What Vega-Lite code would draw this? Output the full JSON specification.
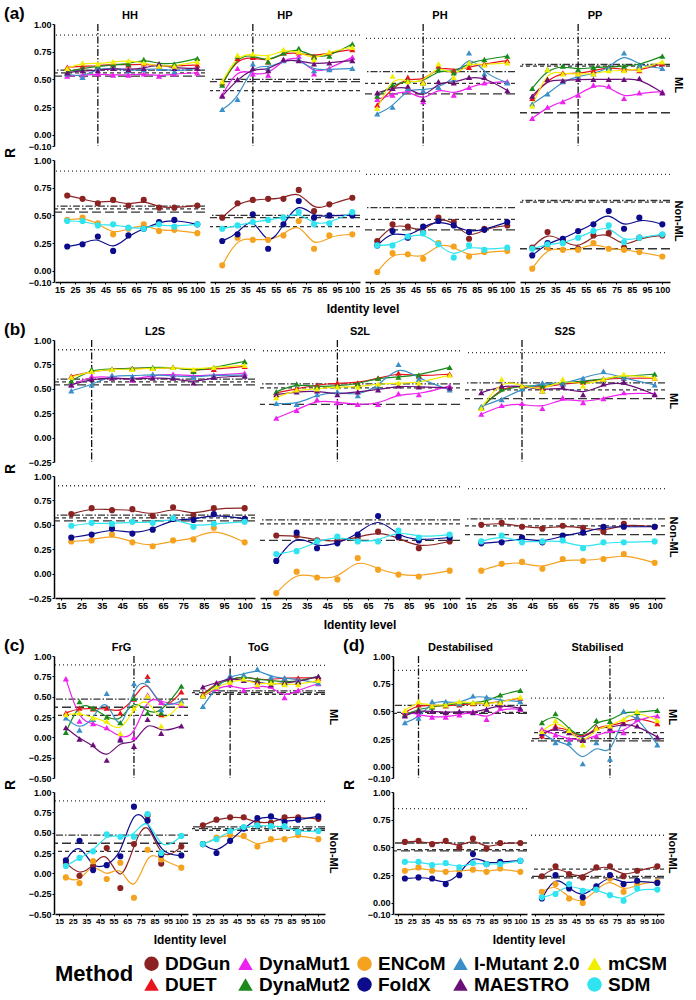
{
"$schema":"https://vega.github.io/schema/vega-lite/v6.json",
"padding":{"left":4,"top":5,"right":4,"bottom":0},
"spacing":6,
"config":{
"font":"Liberation Sans",
"view":{"stroke":null},
"axis":{"grid":false,"domainColor":"#000","domainWidth":1.5,"tickColor":"#000","tickSize":2,"labelFontWeight":"bold","labelFontSize":9,"labelColor":"#000","labelPadding":1,"labelOverlap":false,"labelFlush":false},
"header":{"labelFontWeight":"bold","labelFontSize":11,"labelColor":"#000","titleFontWeight":"bold","titleFontSize":12,"titleColor":"#000","labelPadding":2,"titlePadding":0},
"title":{"fontSize":17,"fontWeight":"bold","anchor":"start","color":"#000","offset":-13},
"legend":{"orient":"bottom","direction":"horizontal","columns":5,"titleOrient":"left","titleAnchor":"middle","titleFontSize":22,"titleFontWeight":"bold","titleColor":"#000","labelFontWeight":"bold","labelFontSize":19,"labelColor":"#000","symbolSize":210,"rowPadding":1,"columnPadding":5,"titlePadding":8,"labelLimit":250,"offset":8,"symbolStrokeWidth":0},
"concat":{"spacing":6}
},
"datasets":{
"meth":[{"m":"DG","n":"DDGun","r":"Non-ML"},{"m":"DU","n":"DUET","r":"ML"},{"m":"D1","n":"DynaMut1","r":"ML"},{"m":"D2","n":"DynaMut2","r":"ML"},{"m":"EN","n":"ENCoM","r":"Non-ML"},{"m":"FX","n":"FoldX","r":"Non-ML"},{"m":"IM","n":"I-Mutant 2.0","r":"ML"},{"m":"MA","n":"MAESTRO","r":"ML"},{"m":"MC","n":"mCSM","r":"ML"},{"m":"SD","n":"SDM","r":"Non-ML"},{"m":"L","r":"ML"},{"m":"N","r":"Non-ML"}],
"a":[
{"p":"HH","m":"L","k":"dot","y":0.9},{"p":"HH","m":"L","k":"dd","y":0.585},{"p":"HH","m":"L","k":"ds","y":0.56},{"p":"HH","m":"L","k":"ld","y":0.53},
{"p":"HH","m":"N","k":"dot","y":0.9},{"p":"HH","m":"N","k":"dd","y":0.585},{"p":"HH","m":"N","k":"ds","y":0.56},{"p":"HH","m":"N","k":"ld","y":0.53},{"p":"HH","m":"L","k":"v","x":40},
{"p":"HP","m":"L","k":"dot","y":0.9},{"p":"HP","m":"L","k":"dd","y":0.5},{"p":"HP","m":"L","k":"ld","y":0.48},{"p":"HP","m":"L","k":"ds","y":0.4},
{"p":"HP","m":"N","k":"dot","y":0.9},{"p":"HP","m":"N","k":"dd","y":0.5},{"p":"HP","m":"N","k":"ld","y":0.48},{"p":"HP","m":"N","k":"ds","y":0.4},{"p":"HP","m":"L","k":"v","x":40},
{"p":"PH","m":"L","k":"dot","y":0.87},{"p":"PH","m":"L","k":"dd","y":0.57},{"p":"PH","m":"L","k":"ds","y":0.465},{"p":"PH","m":"L","k":"ld","y":0.37},
{"p":"PH","m":"N","k":"dot","y":0.87},{"p":"PH","m":"N","k":"dd","y":0.57},{"p":"PH","m":"N","k":"ds","y":0.465},{"p":"PH","m":"N","k":"ld","y":0.37},{"p":"PH","m":"L","k":"v","x":50},
{"p":"PP","m":"L","k":"dot","y":0.87},{"p":"PP","m":"L","k":"dd","y":0.635},{"p":"PP","m":"L","k":"ds","y":0.62},{"p":"PP","m":"L","k":"ld","y":0.2},
{"p":"PP","m":"N","k":"dot","y":0.87},{"p":"PP","m":"N","k":"dd","y":0.635},{"p":"PP","m":"N","k":"ds","y":0.62},{"p":"PP","m":"N","k":"ld","y":0.2},{"p":"PP","m":"L","k":"v","x":50},
{"p":"HH","m":"DU","x":20,"y":0.61},{"p":"HH","m":"DU","x":30,"y":0.62},{"p":"HH","m":"DU","x":40,"y":0.62},{"p":"HH","m":"DU","x":50,"y":0.64},{"p":"HH","m":"DU","x":60,"y":0.63},{"p":"HH","m":"DU","x":70,"y":0.64},{"p":"HH","m":"DU","x":80,"y":0.62},{"p":"HH","m":"DU","x":90,"y":0.62},{"p":"HH","m":"DU","x":100,"y":0.63},
{"p":"HH","m":"D1","x":20,"y":0.53},{"p":"HH","m":"D1","x":30,"y":0.54},{"p":"HH","m":"D1","x":40,"y":0.55},{"p":"HH","m":"D1","x":50,"y":0.54},{"p":"HH","m":"D1","x":60,"y":0.54},{"p":"HH","m":"D1","x":70,"y":0.55},{"p":"HH","m":"D1","x":80,"y":0.53},{"p":"HH","m":"D1","x":90,"y":0.55},{"p":"HH","m":"D1","x":100,"y":0.56},
{"p":"HH","m":"D2","x":20,"y":0.57},{"p":"HH","m":"D2","x":30,"y":0.6},{"p":"HH","m":"D2","x":40,"y":0.62},{"p":"HH","m":"D2","x":50,"y":0.63},{"p":"HH","m":"D2","x":60,"y":0.64},{"p":"HH","m":"D2","x":70,"y":0.68},{"p":"HH","m":"D2","x":80,"y":0.64},{"p":"HH","m":"D2","x":90,"y":0.64},{"p":"HH","m":"D2","x":100,"y":0.69},
{"p":"HH","m":"IM","x":20,"y":0.55},{"p":"HH","m":"IM","x":30,"y":0.52},{"p":"HH","m":"IM","x":40,"y":0.6},{"p":"HH","m":"IM","x":50,"y":0.6},{"p":"HH","m":"IM","x":60,"y":0.58},{"p":"HH","m":"IM","x":70,"y":0.59},{"p":"HH","m":"IM","x":80,"y":0.6},{"p":"HH","m":"IM","x":90,"y":0.57},{"p":"HH","m":"IM","x":100,"y":0.6},
{"p":"HH","m":"MA","x":20,"y":0.56},{"p":"HH","m":"MA","x":30,"y":0.58},{"p":"HH","m":"MA","x":40,"y":0.58},{"p":"HH","m":"MA","x":50,"y":0.6},{"p":"HH","m":"MA","x":60,"y":0.59},{"p":"HH","m":"MA","x":70,"y":0.6},{"p":"HH","m":"MA","x":80,"y":0.64},{"p":"HH","m":"MA","x":90,"y":0.6},{"p":"HH","m":"MA","x":100,"y":0.6},
{"p":"HH","m":"MC","x":20,"y":0.6},{"p":"HH","m":"MC","x":30,"y":0.65},{"p":"HH","m":"MC","x":40,"y":0.64},{"p":"HH","m":"MC","x":50,"y":0.66},{"p":"HH","m":"MC","x":60,"y":0.67},{"p":"HH","m":"MC","x":70,"y":0.65},{"p":"HH","m":"MC","x":80,"y":0.62},{"p":"HH","m":"MC","x":90,"y":0.62},{"p":"HH","m":"MC","x":100,"y":0.66},
{"p":"HH","m":"DG","x":20,"y":0.68},{"p":"HH","m":"DG","x":30,"y":0.65},{"p":"HH","m":"DG","x":40,"y":0.61},{"p":"HH","m":"DG","x":50,"y":0.64},{"p":"HH","m":"DG","x":60,"y":0.59},{"p":"HH","m":"DG","x":70,"y":0.64},{"p":"HH","m":"DG","x":80,"y":0.57},{"p":"HH","m":"DG","x":90,"y":0.57},{"p":"HH","m":"DG","x":100,"y":0.59},
{"p":"HH","m":"EN","x":20,"y":0.46},{"p":"HH","m":"EN","x":30,"y":0.48},{"p":"HH","m":"EN","x":40,"y":0.43},{"p":"HH","m":"EN","x":50,"y":0.33},{"p":"HH","m":"EN","x":60,"y":0.38},{"p":"HH","m":"EN","x":70,"y":0.42},{"p":"HH","m":"EN","x":80,"y":0.36},{"p":"HH","m":"EN","x":90,"y":0.37},{"p":"HH","m":"EN","x":100,"y":0.34},
{"p":"HH","m":"FX","x":20,"y":0.22},{"p":"HH","m":"FX","x":30,"y":0.24},{"p":"HH","m":"FX","x":40,"y":0.31},{"p":"HH","m":"FX","x":50,"y":0.18},{"p":"HH","m":"FX","x":60,"y":0.32},{"p":"HH","m":"FX","x":70,"y":0.38},{"p":"HH","m":"FX","x":80,"y":0.44},{"p":"HH","m":"FX","x":90,"y":0.46},{"p":"HH","m":"FX","x":100,"y":0.42},
{"p":"HH","m":"SD","x":20,"y":0.45},{"p":"HH","m":"SD","x":30,"y":0.45},{"p":"HH","m":"SD","x":40,"y":0.41},{"p":"HH","m":"SD","x":50,"y":0.42},{"p":"HH","m":"SD","x":60,"y":0.39},{"p":"HH","m":"SD","x":70,"y":0.38},{"p":"HH","m":"SD","x":80,"y":0.42},{"p":"HH","m":"SD","x":90,"y":0.4},{"p":"HH","m":"SD","x":100,"y":0.42},
{"p":"HP","m":"DU","x":20,"y":0.47},{"p":"HP","m":"DU","x":30,"y":0.69},{"p":"HP","m":"DU","x":40,"y":0.7},{"p":"HP","m":"DU","x":50,"y":0.66},{"p":"HP","m":"DU","x":60,"y":0.74},{"p":"HP","m":"DU","x":70,"y":0.74},{"p":"HP","m":"DU","x":80,"y":0.71},{"p":"HP","m":"DU","x":90,"y":0.74},{"p":"HP","m":"DU","x":100,"y":0.77},
{"p":"HP","m":"D1","x":20,"y":0.36},{"p":"HP","m":"D1","x":30,"y":0.6},{"p":"HP","m":"D1","x":40,"y":0.55},{"p":"HP","m":"D1","x":50,"y":0.54},{"p":"HP","m":"D1","x":60,"y":0.68},{"p":"HP","m":"D1","x":70,"y":0.71},{"p":"HP","m":"D1","x":80,"y":0.55},{"p":"HP","m":"D1","x":90,"y":0.6},{"p":"HP","m":"D1","x":100,"y":0.7},
{"p":"HP","m":"D2","x":20,"y":0.45},{"p":"HP","m":"D2","x":30,"y":0.71},{"p":"HP","m":"D2","x":40,"y":0.72},{"p":"HP","m":"D2","x":50,"y":0.66},{"p":"HP","m":"D2","x":60,"y":0.74},{"p":"HP","m":"D2","x":70,"y":0.78},{"p":"HP","m":"D2","x":80,"y":0.7},{"p":"HP","m":"D2","x":90,"y":0.71},{"p":"HP","m":"D2","x":100,"y":0.82},
{"p":"HP","m":"IM","x":20,"y":0.23},{"p":"HP","m":"IM","x":30,"y":0.32},{"p":"HP","m":"IM","x":40,"y":0.64},{"p":"HP","m":"IM","x":50,"y":0.6},{"p":"HP","m":"IM","x":60,"y":0.67},{"p":"HP","m":"IM","x":70,"y":0.68},{"p":"HP","m":"IM","x":80,"y":0.58},{"p":"HP","m":"IM","x":90,"y":0.59},{"p":"HP","m":"IM","x":100,"y":0.6},
{"p":"HP","m":"MA","x":20,"y":0.35},{"p":"HP","m":"MA","x":30,"y":0.5},{"p":"HP","m":"MA","x":40,"y":0.6},{"p":"HP","m":"MA","x":50,"y":0.58},{"p":"HP","m":"MA","x":60,"y":0.68},{"p":"HP","m":"MA","x":70,"y":0.67},{"p":"HP","m":"MA","x":80,"y":0.64},{"p":"HP","m":"MA","x":90,"y":0.65},{"p":"HP","m":"MA","x":100,"y":0.67},
{"p":"HP","m":"MC","x":20,"y":0.48},{"p":"HP","m":"MC","x":30,"y":0.72},{"p":"HP","m":"MC","x":40,"y":0.73},{"p":"HP","m":"MC","x":50,"y":0.7},{"p":"HP","m":"MC","x":60,"y":0.77},{"p":"HP","m":"MC","x":70,"y":0.75},{"p":"HP","m":"MC","x":80,"y":0.68},{"p":"HP","m":"MC","x":90,"y":0.75},{"p":"HP","m":"MC","x":100,"y":0.79},
{"p":"HP","m":"DG","x":20,"y":0.48},{"p":"HP","m":"DG","x":30,"y":0.61},{"p":"HP","m":"DG","x":40,"y":0.64},{"p":"HP","m":"DG","x":50,"y":0.65},{"p":"HP","m":"DG","x":60,"y":0.65},{"p":"HP","m":"DG","x":70,"y":0.73},{"p":"HP","m":"DG","x":80,"y":0.54},{"p":"HP","m":"DG","x":90,"y":0.6},{"p":"HP","m":"DG","x":100,"y":0.66},
{"p":"HP","m":"EN","x":20,"y":0.05},{"p":"HP","m":"EN","x":30,"y":0.3},{"p":"HP","m":"EN","x":40,"y":0.28},{"p":"HP","m":"EN","x":50,"y":0.28},{"p":"HP","m":"EN","x":60,"y":0.32},{"p":"HP","m":"EN","x":70,"y":0.45},{"p":"HP","m":"EN","x":80,"y":0.2},{"p":"HP","m":"EN","x":90,"y":0.32},{"p":"HP","m":"EN","x":100,"y":0.33},
{"p":"HP","m":"FX","x":20,"y":0.27},{"p":"HP","m":"FX","x":30,"y":0.33},{"p":"HP","m":"FX","x":40,"y":0.51},{"p":"HP","m":"FX","x":50,"y":0.2},{"p":"HP","m":"FX","x":60,"y":0.42},{"p":"HP","m":"FX","x":70,"y":0.63},{"p":"HP","m":"FX","x":80,"y":0.48},{"p":"HP","m":"FX","x":90,"y":0.5},{"p":"HP","m":"FX","x":100,"y":0.5},
{"p":"HP","m":"SD","x":20,"y":0.38},{"p":"HP","m":"SD","x":30,"y":0.41},{"p":"HP","m":"SD","x":40,"y":0.44},{"p":"HP","m":"SD","x":50,"y":0.46},{"p":"HP","m":"SD","x":60,"y":0.48},{"p":"HP","m":"SD","x":70,"y":0.53},{"p":"HP","m":"SD","x":80,"y":0.42},{"p":"HP","m":"SD","x":90,"y":0.43},{"p":"HP","m":"SD","x":100,"y":0.53},
{"p":"PH","m":"DU","x":20,"y":0.27},{"p":"PH","m":"DU","x":30,"y":0.42},{"p":"PH","m":"DU","x":40,"y":0.52},{"p":"PH","m":"DU","x":50,"y":0.48},{"p":"PH","m":"DU","x":60,"y":0.62},{"p":"PH","m":"DU","x":70,"y":0.58},{"p":"PH","m":"DU","x":80,"y":0.61},{"p":"PH","m":"DU","x":90,"y":0.64},{"p":"PH","m":"DU","x":100,"y":0.67},
{"p":"PH","m":"D1","x":20,"y":0.32},{"p":"PH","m":"D1","x":30,"y":0.36},{"p":"PH","m":"D1","x":40,"y":0.41},{"p":"PH","m":"D1","x":50,"y":0.3},{"p":"PH","m":"D1","x":60,"y":0.43},{"p":"PH","m":"D1","x":70,"y":0.36},{"p":"PH","m":"D1","x":80,"y":0.43},{"p":"PH","m":"D1","x":90,"y":0.47},{"p":"PH","m":"D1","x":100,"y":0.48},
{"p":"PH","m":"D2","x":20,"y":0.35},{"p":"PH","m":"D2","x":30,"y":0.45},{"p":"PH","m":"D2","x":40,"y":0.49},{"p":"PH","m":"D2","x":50,"y":0.47},{"p":"PH","m":"D2","x":60,"y":0.59},{"p":"PH","m":"D2","x":70,"y":0.56},{"p":"PH","m":"D2","x":80,"y":0.65},{"p":"PH","m":"D2","x":90,"y":0.68},{"p":"PH","m":"D2","x":100,"y":0.71},
{"p":"PH","m":"IM","x":20,"y":0.19},{"p":"PH","m":"IM","x":30,"y":0.25},{"p":"PH","m":"IM","x":40,"y":0.42},{"p":"PH","m":"IM","x":50,"y":0.4},{"p":"PH","m":"IM","x":60,"y":0.43},{"p":"PH","m":"IM","x":70,"y":0.5},{"p":"PH","m":"IM","x":80,"y":0.74},{"p":"PH","m":"IM","x":90,"y":0.55},{"p":"PH","m":"IM","x":100,"y":0.47},
{"p":"PH","m":"MA","x":20,"y":0.38},{"p":"PH","m":"MA","x":30,"y":0.42},{"p":"PH","m":"MA","x":40,"y":0.44},{"p":"PH","m":"MA","x":50,"y":0.32},{"p":"PH","m":"MA","x":60,"y":0.48},{"p":"PH","m":"MA","x":70,"y":0.47},{"p":"PH","m":"MA","x":80,"y":0.52},{"p":"PH","m":"MA","x":90,"y":0.52},{"p":"PH","m":"MA","x":100,"y":0.4},
{"p":"PH","m":"MC","x":20,"y":0.24},{"p":"PH","m":"MC","x":30,"y":0.53},{"p":"PH","m":"MC","x":40,"y":0.48},{"p":"PH","m":"MC","x":50,"y":0.47},{"p":"PH","m":"MC","x":60,"y":0.64},{"p":"PH","m":"MC","x":70,"y":0.52},{"p":"PH","m":"MC","x":80,"y":0.65},{"p":"PH","m":"MC","x":90,"y":0.63},{"p":"PH","m":"MC","x":100,"y":0.65},
{"p":"PH","m":"DG","x":20,"y":0.27},{"p":"PH","m":"DG","x":30,"y":0.42},{"p":"PH","m":"DG","x":40,"y":0.4},{"p":"PH","m":"DG","x":50,"y":0.35},{"p":"PH","m":"DG","x":60,"y":0.48},{"p":"PH","m":"DG","x":70,"y":0.44},{"p":"PH","m":"DG","x":80,"y":0.29},{"p":"PH","m":"DG","x":90,"y":0.38},{"p":"PH","m":"DG","x":100,"y":0.41},
{"p":"PH","m":"EN","x":20,"y":-0.01},{"p":"PH","m":"EN","x":30,"y":0.16},{"p":"PH","m":"EN","x":40,"y":0.15},{"p":"PH","m":"EN","x":50,"y":0.11},{"p":"PH","m":"EN","x":60,"y":0.25},{"p":"PH","m":"EN","x":70,"y":0.22},{"p":"PH","m":"EN","x":80,"y":0.13},{"p":"PH","m":"EN","x":90,"y":0.17},{"p":"PH","m":"EN","x":100,"y":0.18},
{"p":"PH","m":"FX","x":20,"y":0.23},{"p":"PH","m":"FX","x":30,"y":0.36},{"p":"PH","m":"FX","x":40,"y":0.3},{"p":"PH","m":"FX","x":50,"y":0.4},{"p":"PH","m":"FX","x":60,"y":0.45},{"p":"PH","m":"FX","x":70,"y":0.41},{"p":"PH","m":"FX","x":80,"y":0.35},{"p":"PH","m":"FX","x":90,"y":0.37},{"p":"PH","m":"FX","x":100,"y":0.44},
{"p":"PH","m":"SD","x":20,"y":0.23},{"p":"PH","m":"SD","x":30,"y":0.23},{"p":"PH","m":"SD","x":40,"y":0.31},{"p":"PH","m":"SD","x":50,"y":0.34},{"p":"PH","m":"SD","x":60,"y":0.24},{"p":"PH","m":"SD","x":70,"y":0.12},{"p":"PH","m":"SD","x":80,"y":0.23},{"p":"PH","m":"SD","x":90,"y":0.19},{"p":"PH","m":"SD","x":100,"y":0.21},
{"p":"PP","m":"DU","x":20,"y":0.33},{"p":"PP","m":"DU","x":30,"y":0.5},{"p":"PP","m":"DU","x":40,"y":0.56},{"p":"PP","m":"DU","x":50,"y":0.55},{"p":"PP","m":"DU","x":60,"y":0.58},{"p":"PP","m":"DU","x":70,"y":0.61},{"p":"PP","m":"DU","x":80,"y":0.59},{"p":"PP","m":"DU","x":90,"y":0.58},{"p":"PP","m":"DU","x":100,"y":0.64},
{"p":"PP","m":"D1","x":20,"y":0.15},{"p":"PP","m":"D1","x":30,"y":0.25},{"p":"PP","m":"D1","x":40,"y":0.3},{"p":"PP","m":"D1","x":50,"y":0.36},{"p":"PP","m":"D1","x":60,"y":0.45},{"p":"PP","m":"D1","x":70,"y":0.44},{"p":"PP","m":"D1","x":80,"y":0.33},{"p":"PP","m":"D1","x":90,"y":0.38},{"p":"PP","m":"D1","x":100,"y":0.39},
{"p":"PP","m":"D2","x":20,"y":0.42},{"p":"PP","m":"D2","x":30,"y":0.59},{"p":"PP","m":"D2","x":40,"y":0.62},{"p":"PP","m":"D2","x":50,"y":0.59},{"p":"PP","m":"D2","x":60,"y":0.61},{"p":"PP","m":"D2","x":70,"y":0.61},{"p":"PP","m":"D2","x":80,"y":0.62},{"p":"PP","m":"D2","x":90,"y":0.63},{"p":"PP","m":"D2","x":100,"y":0.71},
{"p":"PP","m":"IM","x":20,"y":0.28},{"p":"PP","m":"IM","x":30,"y":0.37},{"p":"PP","m":"IM","x":40,"y":0.48},{"p":"PP","m":"IM","x":50,"y":0.53},{"p":"PP","m":"IM","x":60,"y":0.55},{"p":"PP","m":"IM","x":70,"y":0.6},{"p":"PP","m":"IM","x":80,"y":0.74},{"p":"PP","m":"IM","x":90,"y":0.62},{"p":"PP","m":"IM","x":100,"y":0.6},
{"p":"PP","m":"MA","x":20,"y":0.35},{"p":"PP","m":"MA","x":30,"y":0.5},{"p":"PP","m":"MA","x":40,"y":0.49},{"p":"PP","m":"MA","x":50,"y":0.5},{"p":"PP","m":"MA","x":60,"y":0.5},{"p":"PP","m":"MA","x":70,"y":0.5},{"p":"PP","m":"MA","x":80,"y":0.5},{"p":"PP","m":"MA","x":90,"y":0.51},{"p":"PP","m":"MA","x":100,"y":0.38},
{"p":"PP","m":"MC","x":20,"y":0.26},{"p":"PP","m":"MC","x":30,"y":0.59},{"p":"PP","m":"MC","x":40,"y":0.55},{"p":"PP","m":"MC","x":50,"y":0.55},{"p":"PP","m":"MC","x":60,"y":0.55},{"p":"PP","m":"MC","x":70,"y":0.58},{"p":"PP","m":"MC","x":80,"y":0.58},{"p":"PP","m":"MC","x":90,"y":0.59},{"p":"PP","m":"MC","x":100,"y":0.66},
{"p":"PP","m":"DG","x":20,"y":0.21},{"p":"PP","m":"DG","x":30,"y":0.35},{"p":"PP","m":"DG","x":40,"y":0.27},{"p":"PP","m":"DG","x":50,"y":0.2},{"p":"PP","m":"DG","x":60,"y":0.32},{"p":"PP","m":"DG","x":70,"y":0.34},{"p":"PP","m":"DG","x":80,"y":0.21},{"p":"PP","m":"DG","x":90,"y":0.3},{"p":"PP","m":"DG","x":100,"y":0.32},
{"p":"PP","m":"EN","x":20,"y":0.02},{"p":"PP","m":"EN","x":30,"y":0.21},{"p":"PP","m":"EN","x":40,"y":0.19},{"p":"PP","m":"EN","x":50,"y":0.19},{"p":"PP","m":"EN","x":60,"y":0.25},{"p":"PP","m":"EN","x":70,"y":0.2},{"p":"PP","m":"EN","x":80,"y":0.19},{"p":"PP","m":"EN","x":90,"y":0.17},{"p":"PP","m":"EN","x":100,"y":0.13},
{"p":"PP","m":"FX","x":20,"y":0.14},{"p":"PP","m":"FX","x":30,"y":0.25},{"p":"PP","m":"FX","x":40,"y":0.29},{"p":"PP","m":"FX","x":50,"y":0.36},{"p":"PP","m":"FX","x":60,"y":0.42},{"p":"PP","m":"FX","x":70,"y":0.54},{"p":"PP","m":"FX","x":80,"y":0.38},{"p":"PP","m":"FX","x":90,"y":0.48},{"p":"PP","m":"FX","x":100,"y":0.42},
{"p":"PP","m":"SD","x":20,"y":0.2},{"p":"PP","m":"SD","x":30,"y":0.24},{"p":"PP","m":"SD","x":40,"y":0.25},{"p":"PP","m":"SD","x":50,"y":0.3},{"p":"PP","m":"SD","x":60,"y":0.36},{"p":"PP","m":"SD","x":70,"y":0.41},{"p":"PP","m":"SD","x":80,"y":0.26},{"p":"PP","m":"SD","x":90,"y":0.3},{"p":"PP","m":"SD","x":100,"y":0.33}
],
"b":[
{"p":"L2S","m":"L","k":"dot","y":0.9},{"p":"L2S","m":"L","k":"dd","y":0.6},{"p":"L2S","m":"L","k":"ds","y":0.57},{"p":"L2S","m":"L","k":"ld","y":0.54},
{"p":"L2S","m":"N","k":"dot","y":0.9},{"p":"L2S","m":"N","k":"dd","y":0.6},{"p":"L2S","m":"N","k":"ds","y":0.57},{"p":"L2S","m":"N","k":"ld","y":0.54},{"p":"L2S","m":"L","k":"v","x":30},
{"p":"S2L","m":"L","k":"dot","y":0.89},{"p":"S2L","m":"L","k":"dd","y":0.55},{"p":"S2L","m":"L","k":"ds","y":0.51},{"p":"S2L","m":"L","k":"ld","y":0.34},
{"p":"S2L","m":"N","k":"dot","y":0.89},{"p":"S2L","m":"N","k":"dd","y":0.55},{"p":"S2L","m":"N","k":"ds","y":0.51},{"p":"S2L","m":"N","k":"ld","y":0.34},{"p":"S2L","m":"L","k":"v","x":50},
{"p":"S2S","m":"L","k":"dot","y":0.87},{"p":"S2S","m":"L","k":"dd","y":0.56},{"p":"S2S","m":"L","k":"ds","y":0.49},{"p":"S2S","m":"L","k":"ld","y":0.4},
{"p":"S2S","m":"N","k":"dot","y":0.87},{"p":"S2S","m":"N","k":"dd","y":0.56},{"p":"S2S","m":"N","k":"ds","y":0.49},{"p":"S2S","m":"N","k":"ld","y":0.4},{"p":"S2S","m":"L","k":"v","x":40},
{"p":"L2S","m":"DU","x":20,"y":0.63},{"p":"L2S","m":"DU","x":30,"y":0.68},{"p":"L2S","m":"DU","x":40,"y":0.7},{"p":"L2S","m":"DU","x":50,"y":0.71},{"p":"L2S","m":"DU","x":60,"y":0.71},{"p":"L2S","m":"DU","x":70,"y":0.72},{"p":"L2S","m":"DU","x":80,"y":0.69},{"p":"L2S","m":"DU","x":90,"y":0.7},{"p":"L2S","m":"DU","x":100,"y":0.73},
{"p":"L2S","m":"D1","x":20,"y":0.54},{"p":"L2S","m":"D1","x":30,"y":0.63},{"p":"L2S","m":"D1","x":40,"y":0.62},{"p":"L2S","m":"D1","x":50,"y":0.59},{"p":"L2S","m":"D1","x":60,"y":0.64},{"p":"L2S","m":"D1","x":70,"y":0.65},{"p":"L2S","m":"D1","x":80,"y":0.63},{"p":"L2S","m":"D1","x":90,"y":0.64},{"p":"L2S","m":"D1","x":100,"y":0.66},
{"p":"L2S","m":"D2","x":20,"y":0.58},{"p":"L2S","m":"D2","x":30,"y":0.7},{"p":"L2S","m":"D2","x":40,"y":0.7},{"p":"L2S","m":"D2","x":50,"y":0.71},{"p":"L2S","m":"D2","x":60,"y":0.72},{"p":"L2S","m":"D2","x":70,"y":0.72},{"p":"L2S","m":"D2","x":80,"y":0.68},{"p":"L2S","m":"D2","x":90,"y":0.72},{"p":"L2S","m":"D2","x":100,"y":0.78},
{"p":"L2S","m":"IM","x":20,"y":0.48},{"p":"L2S","m":"IM","x":30,"y":0.54},{"p":"L2S","m":"IM","x":40,"y":0.64},{"p":"L2S","m":"IM","x":50,"y":0.63},{"p":"L2S","m":"IM","x":60,"y":0.65},{"p":"L2S","m":"IM","x":70,"y":0.63},{"p":"L2S","m":"IM","x":80,"y":0.62},{"p":"L2S","m":"IM","x":90,"y":0.64},{"p":"L2S","m":"IM","x":100,"y":0.64},
{"p":"L2S","m":"MA","x":20,"y":0.54},{"p":"L2S","m":"MA","x":30,"y":0.6},{"p":"L2S","m":"MA","x":40,"y":0.61},{"p":"L2S","m":"MA","x":50,"y":0.6},{"p":"L2S","m":"MA","x":60,"y":0.61},{"p":"L2S","m":"MA","x":70,"y":0.61},{"p":"L2S","m":"MA","x":80,"y":0.56},{"p":"L2S","m":"MA","x":90,"y":0.62},{"p":"L2S","m":"MA","x":100,"y":0.63},
{"p":"L2S","m":"MC","x":20,"y":0.62},{"p":"L2S","m":"MC","x":30,"y":0.68},{"p":"L2S","m":"MC","x":40,"y":0.7},{"p":"L2S","m":"MC","x":50,"y":0.7},{"p":"L2S","m":"MC","x":60,"y":0.71},{"p":"L2S","m":"MC","x":70,"y":0.72},{"p":"L2S","m":"MC","x":80,"y":0.7},{"p":"L2S","m":"MC","x":90,"y":0.72},{"p":"L2S","m":"MC","x":100,"y":0.74},
{"p":"L2S","m":"DG","x":20,"y":0.61},{"p":"L2S","m":"DG","x":30,"y":0.67},{"p":"L2S","m":"DG","x":40,"y":0.65},{"p":"L2S","m":"DG","x":50,"y":0.66},{"p":"L2S","m":"DG","x":60,"y":0.59},{"p":"L2S","m":"DG","x":70,"y":0.68},{"p":"L2S","m":"DG","x":80,"y":0.6},{"p":"L2S","m":"DG","x":90,"y":0.67},{"p":"L2S","m":"DG","x":100,"y":0.67},
{"p":"L2S","m":"EN","x":20,"y":0.33},{"p":"L2S","m":"EN","x":30,"y":0.34},{"p":"L2S","m":"EN","x":40,"y":0.4},{"p":"L2S","m":"EN","x":50,"y":0.32},{"p":"L2S","m":"EN","x":60,"y":0.28},{"p":"L2S","m":"EN","x":70,"y":0.34},{"p":"L2S","m":"EN","x":80,"y":0.35},{"p":"L2S","m":"EN","x":90,"y":0.47},{"p":"L2S","m":"EN","x":100,"y":0.32},
{"p":"L2S","m":"FX","x":20,"y":0.37},{"p":"L2S","m":"FX","x":30,"y":0.4},{"p":"L2S","m":"FX","x":40,"y":0.46},{"p":"L2S","m":"FX","x":50,"y":0.41},{"p":"L2S","m":"FX","x":60,"y":0.45},{"p":"L2S","m":"FX","x":70,"y":0.56},{"p":"L2S","m":"FX","x":80,"y":0.55},{"p":"L2S","m":"FX","x":90,"y":0.61},{"p":"L2S","m":"FX","x":100,"y":0.56},
{"p":"L2S","m":"SD","x":20,"y":0.49},{"p":"L2S","m":"SD","x":30,"y":0.52},{"p":"L2S","m":"SD","x":40,"y":0.51},{"p":"L2S","m":"SD","x":50,"y":0.53},{"p":"L2S","m":"SD","x":60,"y":0.52},{"p":"L2S","m":"SD","x":70,"y":0.57},{"p":"L2S","m":"SD","x":80,"y":0.48},{"p":"L2S","m":"SD","x":90,"y":0.51},{"p":"L2S","m":"SD","x":100,"y":0.53},
{"p":"S2L","m":"DU","x":20,"y":0.46},{"p":"S2L","m":"DU","x":30,"y":0.5},{"p":"S2L","m":"DU","x":40,"y":0.54},{"p":"S2L","m":"DU","x":50,"y":0.56},{"p":"S2L","m":"DU","x":60,"y":0.56},{"p":"S2L","m":"DU","x":70,"y":0.61},{"p":"S2L","m":"DU","x":80,"y":0.66},{"p":"S2L","m":"DU","x":90,"y":0.63},{"p":"S2L","m":"DU","x":100,"y":0.65},
{"p":"S2L","m":"D1","x":20,"y":0.2},{"p":"S2L","m":"D1","x":30,"y":0.28},{"p":"S2L","m":"D1","x":40,"y":0.39},{"p":"S2L","m":"D1","x":50,"y":0.36},{"p":"S2L","m":"D1","x":60,"y":0.34},{"p":"S2L","m":"D1","x":70,"y":0.34},{"p":"S2L","m":"D1","x":80,"y":0.45},{"p":"S2L","m":"D1","x":90,"y":0.44},{"p":"S2L","m":"D1","x":100,"y":0.53},
{"p":"S2L","m":"D2","x":20,"y":0.47},{"p":"S2L","m":"D2","x":30,"y":0.55},{"p":"S2L","m":"D2","x":40,"y":0.52},{"p":"S2L","m":"D2","x":50,"y":0.53},{"p":"S2L","m":"D2","x":60,"y":0.55},{"p":"S2L","m":"D2","x":70,"y":0.61},{"p":"S2L","m":"D2","x":80,"y":0.62},{"p":"S2L","m":"D2","x":90,"y":0.64},{"p":"S2L","m":"D2","x":100,"y":0.72},
{"p":"S2L","m":"IM","x":20,"y":0.35},{"p":"S2L","m":"IM","x":30,"y":0.34},{"p":"S2L","m":"IM","x":40,"y":0.44},{"p":"S2L","m":"IM","x":50,"y":0.47},{"p":"S2L","m":"IM","x":60,"y":0.43},{"p":"S2L","m":"IM","x":70,"y":0.52},{"p":"S2L","m":"IM","x":80,"y":0.75},{"p":"S2L","m":"IM","x":90,"y":0.6},{"p":"S2L","m":"IM","x":100,"y":0.49},
{"p":"S2L","m":"MA","x":20,"y":0.44},{"p":"S2L","m":"MA","x":30,"y":0.47},{"p":"S2L","m":"MA","x":40,"y":0.48},{"p":"S2L","m":"MA","x":50,"y":0.44},{"p":"S2L","m":"MA","x":60,"y":0.47},{"p":"S2L","m":"MA","x":70,"y":0.49},{"p":"S2L","m":"MA","x":80,"y":0.53},{"p":"S2L","m":"MA","x":90,"y":0.52},{"p":"S2L","m":"MA","x":100,"y":0.51},
{"p":"S2L","m":"MC","x":20,"y":0.41},{"p":"S2L","m":"MC","x":30,"y":0.49},{"p":"S2L","m":"MC","x":40,"y":0.5},{"p":"S2L","m":"MC","x":50,"y":0.52},{"p":"S2L","m":"MC","x":60,"y":0.52},{"p":"S2L","m":"MC","x":70,"y":0.55},{"p":"S2L","m":"MC","x":80,"y":0.56},{"p":"S2L","m":"MC","x":90,"y":0.56},{"p":"S2L","m":"MC","x":100,"y":0.64},
{"p":"S2L","m":"DG","x":20,"y":0.39},{"p":"S2L","m":"DG","x":30,"y":0.39},{"p":"S2L","m":"DG","x":40,"y":0.34},{"p":"S2L","m":"DG","x":50,"y":0.33},{"p":"S2L","m":"DG","x":60,"y":0.37},{"p":"S2L","m":"DG","x":70,"y":0.43},{"p":"S2L","m":"DG","x":80,"y":0.37},{"p":"S2L","m":"DG","x":90,"y":0.26},{"p":"S2L","m":"DG","x":100,"y":0.33},
{"p":"S2L","m":"EN","x":20,"y":-0.2},{"p":"S2L","m":"EN","x":30,"y":0.02},{"p":"S2L","m":"EN","x":40,"y":-0.04},{"p":"S2L","m":"EN","x":50,"y":-0.06},{"p":"S2L","m":"EN","x":60,"y":0.16},{"p":"S2L","m":"EN","x":70,"y":0.04},{"p":"S2L","m":"EN","x":80,"y":-0.01},{"p":"S2L","m":"EN","x":90,"y":-0.03},{"p":"S2L","m":"EN","x":100,"y":0.03},
{"p":"S2L","m":"FX","x":20,"y":0.13},{"p":"S2L","m":"FX","x":30,"y":0.42},{"p":"S2L","m":"FX","x":40,"y":0.26},{"p":"S2L","m":"FX","x":50,"y":0.31},{"p":"S2L","m":"FX","x":60,"y":0.4},{"p":"S2L","m":"FX","x":70,"y":0.59},{"p":"S2L","m":"FX","x":80,"y":0.38},{"p":"S2L","m":"FX","x":90,"y":0.34},{"p":"S2L","m":"FX","x":100,"y":0.37},
{"p":"S2L","m":"SD","x":20,"y":0.2},{"p":"S2L","m":"SD","x":30,"y":0.23},{"p":"S2L","m":"SD","x":40,"y":0.33},{"p":"S2L","m":"SD","x":50,"y":0.38},{"p":"S2L","m":"SD","x":60,"y":0.33},{"p":"S2L","m":"SD","x":70,"y":0.33},{"p":"S2L","m":"SD","x":80,"y":0.44},{"p":"S2L","m":"SD","x":90,"y":0.37},{"p":"S2L","m":"SD","x":100,"y":0.4},
{"p":"S2S","m":"DU","x":20,"y":0.3},{"p":"S2S","m":"DU","x":30,"y":0.52},{"p":"S2S","m":"DU","x":40,"y":0.53},{"p":"S2S","m":"DU","x":50,"y":0.51},{"p":"S2S","m":"DU","x":60,"y":0.55},{"p":"S2S","m":"DU","x":70,"y":0.57},{"p":"S2S","m":"DU","x":80,"y":0.6},{"p":"S2S","m":"DU","x":90,"y":0.61},{"p":"S2S","m":"DU","x":100,"y":0.61},
{"p":"S2S","m":"D1","x":20,"y":0.24},{"p":"S2S","m":"D1","x":30,"y":0.33},{"p":"S2S","m":"D1","x":40,"y":0.35},{"p":"S2S","m":"D1","x":50,"y":0.3},{"p":"S2S","m":"D1","x":60,"y":0.41},{"p":"S2S","m":"D1","x":70,"y":0.36},{"p":"S2S","m":"D1","x":80,"y":0.4},{"p":"S2S","m":"D1","x":90,"y":0.46},{"p":"S2S","m":"D1","x":100,"y":0.45},
{"p":"S2S","m":"D2","x":20,"y":0.31},{"p":"S2S","m":"D2","x":30,"y":0.5},{"p":"S2S","m":"D2","x":40,"y":0.53},{"p":"S2S","m":"D2","x":50,"y":0.53},{"p":"S2S","m":"D2","x":60,"y":0.56},{"p":"S2S","m":"D2","x":70,"y":0.58},{"p":"S2S","m":"D2","x":80,"y":0.6},{"p":"S2S","m":"D2","x":90,"y":0.63},{"p":"S2S","m":"D2","x":100,"y":0.65},
{"p":"S2S","m":"IM","x":20,"y":0.32},{"p":"S2S","m":"IM","x":30,"y":0.39},{"p":"S2S","m":"IM","x":40,"y":0.5},{"p":"S2S","m":"IM","x":50,"y":0.56},{"p":"S2S","m":"IM","x":60,"y":0.55},{"p":"S2S","m":"IM","x":70,"y":0.61},{"p":"S2S","m":"IM","x":80,"y":0.68},{"p":"S2S","m":"IM","x":90,"y":0.61},{"p":"S2S","m":"IM","x":100,"y":0.54},
{"p":"S2S","m":"MA","x":20,"y":0.46},{"p":"S2S","m":"MA","x":30,"y":0.53},{"p":"S2S","m":"MA","x":40,"y":0.53},{"p":"S2S","m":"MA","x":50,"y":0.48},{"p":"S2S","m":"MA","x":60,"y":0.52},{"p":"S2S","m":"MA","x":70,"y":0.44},{"p":"S2S","m":"MA","x":80,"y":0.55},{"p":"S2S","m":"MA","x":90,"y":0.57},{"p":"S2S","m":"MA","x":100,"y":0.44},
{"p":"S2S","m":"MC","x":20,"y":0.3},{"p":"S2S","m":"MC","x":30,"y":0.6},{"p":"S2S","m":"MC","x":40,"y":0.53},{"p":"S2S","m":"MC","x":50,"y":0.48},{"p":"S2S","m":"MC","x":60,"y":0.6},{"p":"S2S","m":"MC","x":70,"y":0.53},{"p":"S2S","m":"MC","x":80,"y":0.6},{"p":"S2S","m":"MC","x":90,"y":0.65},{"p":"S2S","m":"MC","x":100,"y":0.61},
{"p":"S2S","m":"DG","x":20,"y":0.5},{"p":"S2S","m":"DG","x":30,"y":0.52},{"p":"S2S","m":"DG","x":40,"y":0.48},{"p":"S2S","m":"DG","x":50,"y":0.46},{"p":"S2S","m":"DG","x":60,"y":0.49},{"p":"S2S","m":"DG","x":70,"y":0.47},{"p":"S2S","m":"DG","x":80,"y":0.43},{"p":"S2S","m":"DG","x":90,"y":0.51},{"p":"S2S","m":"DG","x":100,"y":0.48},
{"p":"S2S","m":"EN","x":20,"y":0.03},{"p":"S2S","m":"EN","x":30,"y":0.1},{"p":"S2S","m":"EN","x":40,"y":0.12},{"p":"S2S","m":"EN","x":50,"y":0.05},{"p":"S2S","m":"EN","x":60,"y":0.15},{"p":"S2S","m":"EN","x":70,"y":0.13},{"p":"S2S","m":"EN","x":80,"y":0.15},{"p":"S2S","m":"EN","x":90,"y":0.2},{"p":"S2S","m":"EN","x":100,"y":0.11},
{"p":"S2S","m":"FX","x":20,"y":0.31},{"p":"S2S","m":"FX","x":30,"y":0.32},{"p":"S2S","m":"FX","x":40,"y":0.37},{"p":"S2S","m":"FX","x":50,"y":0.32},{"p":"S2S","m":"FX","x":60,"y":0.39},{"p":"S2S","m":"FX","x":70,"y":0.42},{"p":"S2S","m":"FX","x":80,"y":0.48},{"p":"S2S","m":"FX","x":90,"y":0.48},{"p":"S2S","m":"FX","x":100,"y":0.48},
{"p":"S2S","m":"SD","x":20,"y":0.33},{"p":"S2S","m":"SD","x":30,"y":0.39},{"p":"S2S","m":"SD","x":40,"y":0.32},{"p":"S2S","m":"SD","x":50,"y":0.33},{"p":"S2S","m":"SD","x":60,"y":0.34},{"p":"S2S","m":"SD","x":70,"y":0.26},{"p":"S2S","m":"SD","x":80,"y":0.32},{"p":"S2S","m":"SD","x":90,"y":0.32},{"p":"S2S","m":"SD","x":100,"y":0.33}
],
"c":[
{"p":"FrG","m":"L","k":"dot","y":0.89},{"p":"FrG","m":"L","k":"dd","y":0.47},{"p":"FrG","m":"L","k":"ld","y":0.37},{"p":"FrG","m":"L","k":"ds","y":0.27},
{"p":"FrG","m":"N","k":"dot","y":0.89},{"p":"FrG","m":"N","k":"dd","y":0.47},{"p":"FrG","m":"N","k":"ld","y":0.37},{"p":"FrG","m":"N","k":"ds","y":0.27},{"p":"FrG","m":"L","k":"v","x":70},
{"p":"ToG","m":"L","k":"dot","y":0.885},{"p":"ToG","m":"L","k":"dd","y":0.57},{"p":"ToG","m":"L","k":"ld","y":0.55},{"p":"ToG","m":"L","k":"ds","y":0.53},
{"p":"ToG","m":"N","k":"dot","y":0.885},{"p":"ToG","m":"N","k":"dd","y":0.57},{"p":"ToG","m":"N","k":"ld","y":0.55},{"p":"ToG","m":"N","k":"ds","y":0.53},{"p":"ToG","m":"L","k":"v","x":40},
{"p":"FrG","m":"DU","x":20,"y":0.3},{"p":"FrG","m":"DU","x":30,"y":0.36},{"p":"FrG","m":"DU","x":40,"y":0.35},{"p":"FrG","m":"DU","x":50,"y":0.36},{"p":"FrG","m":"DU","x":60,"y":0.3},{"p":"FrG","m":"DU","x":70,"y":0.47},{"p":"FrG","m":"DU","x":80,"y":0.75},{"p":"FrG","m":"DU","x":90,"y":0.28},{"p":"FrG","m":"DU","x":100,"y":0.56},
{"p":"FrG","m":"D1","x":20,"y":0.72},{"p":"FrG","m":"D1","x":30,"y":0.2},{"p":"FrG","m":"D1","x":40,"y":0.17},{"p":"FrG","m":"D1","x":50,"y":0.12},{"p":"FrG","m":"D1","x":60,"y":-0.01},{"p":"FrG","m":"D1","x":70,"y":0.0},{"p":"FrG","m":"D1","x":80,"y":0.52},{"p":"FrG","m":"D1","x":90,"y":0.43},{"p":"FrG","m":"D1","x":100,"y":0.4},
{"p":"FrG","m":"D2","x":20,"y":0.06},{"p":"FrG","m":"D2","x":30,"y":0.44},{"p":"FrG","m":"D2","x":40,"y":0.36},{"p":"FrG","m":"D2","x":50,"y":0.25},{"p":"FrG","m":"D2","x":60,"y":0.18},{"p":"FrG","m":"D2","x":70,"y":0.48},{"p":"FrG","m":"D2","x":80,"y":0.3},{"p":"FrG","m":"D2","x":90,"y":0.3},{"p":"FrG","m":"D2","x":100,"y":0.63},
{"p":"FrG","m":"IM","x":20,"y":0.24},{"p":"FrG","m":"IM","x":30,"y":0.09},{"p":"FrG","m":"IM","x":40,"y":0.22},{"p":"FrG","m":"IM","x":50,"y":0.54},{"p":"FrG","m":"IM","x":60,"y":-0.03},{"p":"FrG","m":"IM","x":70,"y":0.66},{"p":"FrG","m":"IM","x":80,"y":0.7},{"p":"FrG","m":"IM","x":90,"y":0.34},{"p":"FrG","m":"IM","x":100,"y":0.45},
{"p":"FrG","m":"MA","x":20,"y":0.12},{"p":"FrG","m":"MA","x":30,"y":-0.02},{"p":"FrG","m":"MA","x":40,"y":-0.09},{"p":"FrG","m":"MA","x":50,"y":-0.28},{"p":"FrG","m":"MA","x":60,"y":-0.03},{"p":"FrG","m":"MA","x":70,"y":-0.11},{"p":"FrG","m":"MA","x":80,"y":0.22},{"p":"FrG","m":"MA","x":90,"y":0.05},{"p":"FrG","m":"MA","x":100,"y":0.14},
{"p":"FrG","m":"MC","x":20,"y":0.28},{"p":"FrG","m":"MC","x":30,"y":0.3},{"p":"FrG","m":"MC","x":40,"y":0.24},{"p":"FrG","m":"MC","x":50,"y":0.2},{"p":"FrG","m":"MC","x":60,"y":0.05},{"p":"FrG","m":"MC","x":70,"y":0.36},{"p":"FrG","m":"MC","x":80,"y":0.51},{"p":"FrG","m":"MC","x":90,"y":0.14},{"p":"FrG","m":"MC","x":100,"y":0.42},
{"p":"FrG","m":"DG","x":20,"y":0.13},{"p":"FrG","m":"DG","x":30,"y":-0.03},{"p":"FrG","m":"DG","x":40,"y":0.09},{"p":"FrG","m":"DG","x":50,"y":0.31},{"p":"FrG","m":"DG","x":60,"y":-0.18},{"p":"FrG","m":"DG","x":70,"y":0.36},{"p":"FrG","m":"DG","x":80,"y":0.71},{"p":"FrG","m":"DG","x":90,"y":0.12},{"p":"FrG","m":"DG","x":100,"y":0.33},
{"p":"FrG","m":"EN","x":20,"y":-0.05},{"p":"FrG","m":"EN","x":30,"y":-0.12},{"p":"FrG","m":"EN","x":40,"y":0.15},{"p":"FrG","m":"EN","x":50,"y":-0.07},{"p":"FrG","m":"EN","x":60,"y":0.13},{"p":"FrG","m":"EN","x":70,"y":-0.3},{"p":"FrG","m":"EN","x":80,"y":0.29},{"p":"FrG","m":"EN","x":90,"y":0.17},{"p":"FrG","m":"EN","x":100,"y":0.07},
{"p":"FrG","m":"FX","x":20,"y":0.16},{"p":"FrG","m":"FX","x":30,"y":0.4},{"p":"FrG","m":"FX","x":40,"y":0.04},{"p":"FrG","m":"FX","x":50,"y":0.1},{"p":"FrG","m":"FX","x":60,"y":0.21},{"p":"FrG","m":"FX","x":70,"y":0.82},{"p":"FrG","m":"FX","x":80,"y":0.65},{"p":"FrG","m":"FX","x":90,"y":0.23},{"p":"FrG","m":"FX","x":100,"y":0.22},
{"p":"FrG","m":"SD","x":20,"y":0.09},{"p":"FrG","m":"SD","x":30,"y":0.19},{"p":"FrG","m":"SD","x":40,"y":0.27},{"p":"FrG","m":"SD","x":50,"y":0.48},{"p":"FrG","m":"SD","x":60,"y":0.45},{"p":"FrG","m":"SD","x":70,"y":0.45},{"p":"FrG","m":"SD","x":80,"y":0.73},{"p":"FrG","m":"SD","x":90,"y":0.25},{"p":"FrG","m":"SD","x":100,"y":0.46},
{"p":"ToG","m":"DU","x":20,"y":0.53},{"p":"ToG","m":"DU","x":30,"y":0.67},{"p":"ToG","m":"DU","x":40,"y":0.71},{"p":"ToG","m":"DU","x":50,"y":0.75},{"p":"ToG","m":"DU","x":60,"y":0.71},{"p":"ToG","m":"DU","x":70,"y":0.71},{"p":"ToG","m":"DU","x":80,"y":0.73},{"p":"ToG","m":"DU","x":90,"y":0.73},{"p":"ToG","m":"DU","x":100,"y":0.73},
{"p":"ToG","m":"D1","x":20,"y":0.51},{"p":"ToG","m":"D1","x":30,"y":0.6},{"p":"ToG","m":"D1","x":40,"y":0.65},{"p":"ToG","m":"D1","x":50,"y":0.58},{"p":"ToG","m":"D1","x":60,"y":0.63},{"p":"ToG","m":"D1","x":70,"y":0.63},{"p":"ToG","m":"D1","x":80,"y":0.49},{"p":"ToG","m":"D1","x":90,"y":0.58},{"p":"ToG","m":"D1","x":100,"y":0.66},
{"p":"ToG","m":"D2","x":20,"y":0.51},{"p":"ToG","m":"D2","x":30,"y":0.66},{"p":"ToG","m":"D2","x":40,"y":0.71},{"p":"ToG","m":"D2","x":50,"y":0.75},{"p":"ToG","m":"D2","x":60,"y":0.71},{"p":"ToG","m":"D2","x":70,"y":0.7},{"p":"ToG","m":"D2","x":80,"y":0.68},{"p":"ToG","m":"D2","x":90,"y":0.69},{"p":"ToG","m":"D2","x":100,"y":0.75},
{"p":"ToG","m":"IM","x":20,"y":0.38},{"p":"ToG","m":"IM","x":30,"y":0.62},{"p":"ToG","m":"IM","x":40,"y":0.76},{"p":"ToG","m":"IM","x":50,"y":0.77},{"p":"ToG","m":"IM","x":60,"y":0.84},{"p":"ToG","m":"IM","x":70,"y":0.74},{"p":"ToG","m":"IM","x":80,"y":0.73},{"p":"ToG","m":"IM","x":90,"y":0.71},{"p":"ToG","m":"IM","x":100,"y":0.67},
{"p":"ToG","m":"MA","x":20,"y":0.62},{"p":"ToG","m":"MA","x":30,"y":0.67},{"p":"ToG","m":"MA","x":40,"y":0.73},{"p":"ToG","m":"MA","x":50,"y":0.7},{"p":"ToG","m":"MA","x":60,"y":0.68},{"p":"ToG","m":"MA","x":70,"y":0.65},{"p":"ToG","m":"MA","x":80,"y":0.67},{"p":"ToG","m":"MA","x":90,"y":0.68},{"p":"ToG","m":"MA","x":100,"y":0.75},
{"p":"ToG","m":"MC","x":20,"y":0.51},{"p":"ToG","m":"MC","x":30,"y":0.62},{"p":"ToG","m":"MC","x":40,"y":0.68},{"p":"ToG","m":"MC","x":50,"y":0.72},{"p":"ToG","m":"MC","x":60,"y":0.65},{"p":"ToG","m":"MC","x":70,"y":0.67},{"p":"ToG","m":"MC","x":80,"y":0.65},{"p":"ToG","m":"MC","x":90,"y":0.65},{"p":"ToG","m":"MC","x":100,"y":0.7},
{"p":"ToG","m":"DG","x":20,"y":0.59},{"p":"ToG","m":"DG","x":30,"y":0.66},{"p":"ToG","m":"DG","x":40,"y":0.69},{"p":"ToG","m":"DG","x":50,"y":0.69},{"p":"ToG","m":"DG","x":60,"y":0.62},{"p":"ToG","m":"DG","x":70,"y":0.62},{"p":"ToG","m":"DG","x":80,"y":0.69},{"p":"ToG","m":"DG","x":90,"y":0.69},{"p":"ToG","m":"DG","x":100,"y":0.67},
{"p":"ToG","m":"EN","x":20,"y":0.36},{"p":"ToG","m":"EN","x":30,"y":0.44},{"p":"ToG","m":"EN","x":40,"y":0.47},{"p":"ToG","m":"EN","x":50,"y":0.46},{"p":"ToG","m":"EN","x":60,"y":0.33},{"p":"ToG","m":"EN","x":70,"y":0.42},{"p":"ToG","m":"EN","x":80,"y":0.42},{"p":"ToG","m":"EN","x":90,"y":0.47},{"p":"ToG","m":"EN","x":100,"y":0.42},
{"p":"ToG","m":"FX","x":20,"y":0.36},{"p":"ToG","m":"FX","x":30,"y":0.25},{"p":"ToG","m":"FX","x":40,"y":0.4},{"p":"ToG","m":"FX","x":50,"y":0.55},{"p":"ToG","m":"FX","x":60,"y":0.68},{"p":"ToG","m":"FX","x":70,"y":0.7},{"p":"ToG","m":"FX","x":80,"y":0.63},{"p":"ToG","m":"FX","x":90,"y":0.66},{"p":"ToG","m":"FX","x":100,"y":0.7},
{"p":"ToG","m":"SD","x":20,"y":0.36},{"p":"ToG","m":"SD","x":30,"y":0.42},{"p":"ToG","m":"SD","x":40,"y":0.52},{"p":"ToG","m":"SD","x":50,"y":0.57},{"p":"ToG","m":"SD","x":60,"y":0.59},{"p":"ToG","m":"SD","x":70,"y":0.58},{"p":"ToG","m":"SD","x":80,"y":0.58},{"p":"ToG","m":"SD","x":90,"y":0.51},{"p":"ToG","m":"SD","x":100,"y":0.52}
],
"d":[
{"p":"Destabilised","m":"L","k":"dot","y":0.87},{"p":"Destabilised","m":"L","k":"dd","y":0.555},{"p":"Destabilised","m":"L","k":"ds","y":0.492},{"p":"Destabilised","m":"L","k":"ld","y":0.482},
{"p":"Destabilised","m":"N","k":"dot","y":0.85},{"p":"Destabilised","m":"N","k":"dd","y":0.54},{"p":"Destabilised","m":"N","k":"ds","y":0.48},{"p":"Destabilised","m":"N","k":"ld","y":0.47},{"p":"Destabilised","m":"L","k":"v","x":30},
{"p":"Stabilised","m":"L","k":"dot","y":0.62},{"p":"Stabilised","m":"L","k":"ds","y":0.31},{"p":"Stabilised","m":"L","k":"dd","y":0.255},{"p":"Stabilised","m":"L","k":"ld","y":0.235},
{"p":"Stabilised","m":"N","k":"dot","y":0.61},{"p":"Stabilised","m":"N","k":"ds","y":0.305},{"p":"Stabilised","m":"N","k":"dd","y":0.24},{"p":"Stabilised","m":"N","k":"ld","y":0.225},{"p":"Stabilised","m":"L","k":"v","x":70},
{"p":"Destabilised","m":"DU","x":20,"y":0.49},{"p":"Destabilised","m":"DU","x":30,"y":0.56},{"p":"Destabilised","m":"DU","x":40,"y":0.55},{"p":"Destabilised","m":"DU","x":50,"y":0.55},{"p":"Destabilised","m":"DU","x":60,"y":0.56},{"p":"Destabilised","m":"DU","x":70,"y":0.57},{"p":"Destabilised","m":"DU","x":80,"y":0.57},{"p":"Destabilised","m":"DU","x":90,"y":0.59},{"p":"Destabilised","m":"DU","x":100,"y":0.62},
{"p":"Destabilised","m":"D1","x":20,"y":0.5},{"p":"Destabilised","m":"D1","x":30,"y":0.47},{"p":"Destabilised","m":"D1","x":40,"y":0.45},{"p":"Destabilised","m":"D1","x":50,"y":0.45},{"p":"Destabilised","m":"D1","x":60,"y":0.47},{"p":"Destabilised","m":"D1","x":70,"y":0.5},{"p":"Destabilised","m":"D1","x":80,"y":0.43},{"p":"Destabilised","m":"D1","x":90,"y":0.53},{"p":"Destabilised","m":"D1","x":100,"y":0.52},
{"p":"Destabilised","m":"D2","x":20,"y":0.47},{"p":"Destabilised","m":"D2","x":30,"y":0.52},{"p":"Destabilised","m":"D2","x":40,"y":0.54},{"p":"Destabilised","m":"D2","x":50,"y":0.56},{"p":"Destabilised","m":"D2","x":60,"y":0.57},{"p":"Destabilised","m":"D2","x":70,"y":0.58},{"p":"Destabilised","m":"D2","x":80,"y":0.59},{"p":"Destabilised","m":"D2","x":90,"y":0.65},{"p":"Destabilised","m":"D2","x":100,"y":0.69},
{"p":"Destabilised","m":"IM","x":20,"y":0.4},{"p":"Destabilised","m":"IM","x":30,"y":0.44},{"p":"Destabilised","m":"IM","x":40,"y":0.59},{"p":"Destabilised","m":"IM","x":50,"y":0.59},{"p":"Destabilised","m":"IM","x":60,"y":0.57},{"p":"Destabilised","m":"IM","x":70,"y":0.64},{"p":"Destabilised","m":"IM","x":80,"y":0.63},{"p":"Destabilised","m":"IM","x":90,"y":0.6},{"p":"Destabilised","m":"IM","x":100,"y":0.59},
{"p":"Destabilised","m":"MA","x":20,"y":0.46},{"p":"Destabilised","m":"MA","x":30,"y":0.51},{"p":"Destabilised","m":"MA","x":40,"y":0.5},{"p":"Destabilised","m":"MA","x":50,"y":0.49},{"p":"Destabilised","m":"MA","x":60,"y":0.5},{"p":"Destabilised","m":"MA","x":70,"y":0.49},{"p":"Destabilised","m":"MA","x":80,"y":0.52},{"p":"Destabilised","m":"MA","x":90,"y":0.56},{"p":"Destabilised","m":"MA","x":100,"y":0.53},
{"p":"Destabilised","m":"MC","x":20,"y":0.51},{"p":"Destabilised","m":"MC","x":30,"y":0.59},{"p":"Destabilised","m":"MC","x":40,"y":0.55},{"p":"Destabilised","m":"MC","x":50,"y":0.56},{"p":"Destabilised","m":"MC","x":60,"y":0.59},{"p":"Destabilised","m":"MC","x":70,"y":0.58},{"p":"Destabilised","m":"MC","x":80,"y":0.57},{"p":"Destabilised","m":"MC","x":90,"y":0.58},{"p":"Destabilised","m":"MC","x":100,"y":0.63},
{"p":"Destabilised","m":"DG","x":20,"y":0.55},{"p":"Destabilised","m":"DG","x":30,"y":0.56},{"p":"Destabilised","m":"DG","x":40,"y":0.53},{"p":"Destabilised","m":"DG","x":50,"y":0.56},{"p":"Destabilised","m":"DG","x":60,"y":0.5},{"p":"Destabilised","m":"DG","x":70,"y":0.58},{"p":"Destabilised","m":"DG","x":80,"y":0.49},{"p":"Destabilised","m":"DG","x":90,"y":0.54},{"p":"Destabilised","m":"DG","x":100,"y":0.54},
{"p":"Destabilised","m":"EN","x":20,"y":0.29},{"p":"Destabilised","m":"EN","x":30,"y":0.32},{"p":"Destabilised","m":"EN","x":40,"y":0.29},{"p":"Destabilised","m":"EN","x":50,"y":0.28},{"p":"Destabilised","m":"EN","x":60,"y":0.29},{"p":"Destabilised","m":"EN","x":70,"y":0.3},{"p":"Destabilised","m":"EN","x":80,"y":0.28},{"p":"Destabilised","m":"EN","x":90,"y":0.31},{"p":"Destabilised","m":"EN","x":100,"y":0.28},
{"p":"Destabilised","m":"FX","x":20,"y":0.22},{"p":"Destabilised","m":"FX","x":30,"y":0.23},{"p":"Destabilised","m":"FX","x":40,"y":0.22},{"p":"Destabilised","m":"FX","x":50,"y":0.17},{"p":"Destabilised","m":"FX","x":60,"y":0.25},{"p":"Destabilised","m":"FX","x":70,"y":0.44},{"p":"Destabilised","m":"FX","x":80,"y":0.35},{"p":"Destabilised","m":"FX","x":90,"y":0.37},{"p":"Destabilised","m":"FX","x":100,"y":0.38},
{"p":"Destabilised","m":"SD","x":20,"y":0.37},{"p":"Destabilised","m":"SD","x":30,"y":0.37},{"p":"Destabilised","m":"SD","x":40,"y":0.34},{"p":"Destabilised","m":"SD","x":50,"y":0.36},{"p":"Destabilised","m":"SD","x":60,"y":0.32},{"p":"Destabilised","m":"SD","x":70,"y":0.36},{"p":"Destabilised","m":"SD","x":80,"y":0.35},{"p":"Destabilised","m":"SD","x":90,"y":0.35},{"p":"Destabilised","m":"SD","x":100,"y":0.38},
{"p":"Stabilised","m":"DU","x":20,"y":0.28},{"p":"Stabilised","m":"DU","x":30,"y":0.37},{"p":"Stabilised","m":"DU","x":40,"y":0.33},{"p":"Stabilised","m":"DU","x":50,"y":0.25},{"p":"Stabilised","m":"DU","x":60,"y":0.36},{"p":"Stabilised","m":"DU","x":70,"y":0.37},{"p":"Stabilised","m":"DU","x":80,"y":0.4},{"p":"Stabilised","m":"DU","x":90,"y":0.45},{"p":"Stabilised","m":"DU","x":100,"y":0.39},
{"p":"Stabilised","m":"D1","x":20,"y":0.34},{"p":"Stabilised","m":"D1","x":30,"y":0.29},{"p":"Stabilised","m":"D1","x":40,"y":0.25},{"p":"Stabilised","m":"D1","x":50,"y":0.24},{"p":"Stabilised","m":"D1","x":60,"y":0.28},{"p":"Stabilised","m":"D1","x":70,"y":0.33},{"p":"Stabilised","m":"D1","x":80,"y":0.31},{"p":"Stabilised","m":"D1","x":90,"y":0.43},{"p":"Stabilised","m":"D1","x":100,"y":0.46},
{"p":"Stabilised","m":"D2","x":20,"y":0.4},{"p":"Stabilised","m":"D2","x":30,"y":0.48},{"p":"Stabilised","m":"D2","x":40,"y":0.34},{"p":"Stabilised","m":"D2","x":50,"y":0.25},{"p":"Stabilised","m":"D2","x":60,"y":0.42},{"p":"Stabilised","m":"D2","x":70,"y":0.41},{"p":"Stabilised","m":"D2","x":80,"y":0.5},{"p":"Stabilised","m":"D2","x":90,"y":0.49},{"p":"Stabilised","m":"D2","x":100,"y":0.51},
{"p":"Stabilised","m":"IM","x":20,"y":0.31},{"p":"Stabilised","m":"IM","x":30,"y":0.22},{"p":"Stabilised","m":"IM","x":40,"y":0.22},{"p":"Stabilised","m":"IM","x":50,"y":0.03},{"p":"Stabilised","m":"IM","x":60,"y":0.22},{"p":"Stabilised","m":"IM","x":70,"y":0.07},{"p":"Stabilised","m":"IM","x":80,"y":0.5},{"p":"Stabilised","m":"IM","x":90,"y":0.45},{"p":"Stabilised","m":"IM","x":100,"y":0.2},
{"p":"Stabilised","m":"MA","x":20,"y":0.3},{"p":"Stabilised","m":"MA","x":30,"y":0.35},{"p":"Stabilised","m":"MA","x":40,"y":0.31},{"p":"Stabilised","m":"MA","x":50,"y":0.24},{"p":"Stabilised","m":"MA","x":60,"y":0.36},{"p":"Stabilised","m":"MA","x":70,"y":0.35},{"p":"Stabilised","m":"MA","x":80,"y":0.39},{"p":"Stabilised","m":"MA","x":90,"y":0.37},{"p":"Stabilised","m":"MA","x":100,"y":0.27},
{"p":"Stabilised","m":"MC","x":20,"y":0.32},{"p":"Stabilised","m":"MC","x":30,"y":0.42},{"p":"Stabilised","m":"MC","x":40,"y":0.33},{"p":"Stabilised","m":"MC","x":50,"y":0.2},{"p":"Stabilised","m":"MC","x":60,"y":0.35},{"p":"Stabilised","m":"MC","x":70,"y":0.37},{"p":"Stabilised","m":"MC","x":80,"y":0.43},{"p":"Stabilised","m":"MC","x":90,"y":0.5},{"p":"Stabilised","m":"MC","x":100,"y":0.42},
{"p":"Stabilised","m":"DG","x":20,"y":0.24},{"p":"Stabilised","m":"DG","x":30,"y":0.33},{"p":"Stabilised","m":"DG","x":40,"y":0.26},{"p":"Stabilised","m":"DG","x":50,"y":0.23},{"p":"Stabilised","m":"DG","x":60,"y":0.32},{"p":"Stabilised","m":"DG","x":70,"y":0.33},{"p":"Stabilised","m":"DG","x":80,"y":0.24},{"p":"Stabilised","m":"DG","x":90,"y":0.29},{"p":"Stabilised","m":"DG","x":100,"y":0.33},
{"p":"Stabilised","m":"EN","x":20,"y":0.1},{"p":"Stabilised","m":"EN","x":30,"y":0.17},{"p":"Stabilised","m":"EN","x":40,"y":0.04},{"p":"Stabilised","m":"EN","x":50,"y":0.0},{"p":"Stabilised","m":"EN","x":60,"y":0.12},{"p":"Stabilised","m":"EN","x":70,"y":0.22},{"p":"Stabilised","m":"EN","x":80,"y":0.1},{"p":"Stabilised","m":"EN","x":90,"y":0.17},{"p":"Stabilised","m":"EN","x":100,"y":0.19},
{"p":"Stabilised","m":"FX","x":20,"y":0.04},{"p":"Stabilised","m":"FX","x":30,"y":0.25},{"p":"Stabilised","m":"FX","x":40,"y":0.13},{"p":"Stabilised","m":"FX","x":50,"y":0.05},{"p":"Stabilised","m":"FX","x":60,"y":0.15},{"p":"Stabilised","m":"FX","x":70,"y":0.25},{"p":"Stabilised","m":"FX","x":80,"y":0.17},{"p":"Stabilised","m":"FX","x":90,"y":0.2},{"p":"Stabilised","m":"FX","x":100,"y":0.18},
{"p":"Stabilised","m":"SD","x":20,"y":0.05},{"p":"Stabilised","m":"SD","x":30,"y":0.08},{"p":"Stabilised","m":"SD","x":40,"y":0.17},{"p":"Stabilised","m":"SD","x":50,"y":0.11},{"p":"Stabilised","m":"SD","x":60,"y":0.12},{"p":"Stabilised","m":"SD","x":70,"y":0.07},{"p":"Stabilised","m":"SD","x":80,"y":0.02},{"p":"Stabilised","m":"SD","x":90,"y":0.13},{"p":"Stabilised","m":"SD","x":100,"y":0.12}
]
},
"vconcat":[
{
"data":{"name":"a"},
"transform":[{"lookup":"m","from":{"data":{"name":"meth"},"key":"m","fields":["n","r"]}}],
"title":{"text":"(a)"},
"facet":{
"row":{"field":"r","type":"nominal","sort":["ML","Non-ML"],"title":"R","header":{"labelOrient":"right","labelAngle":90,"titleOrient":"left","titleFontSize":14}},
"column":{"field":"p","type":"nominal","sort":["HH","HP","PH","PP"],"title":"Identity level","header":{"labelOrient":"top","titleOrient":"bottom"}}
},
"spacing":{"row":13,"column":3},
"spec":{
"width":150,"height":122,
"layer":[
{"transform":[{"filter":"datum.k&&datum.k!='v'"}],"mark":{"type":"rule","strokeWidth":1.3,"color":"#333"},"encoding":{"y":{"field":"y","type":"quantitative","title":null,"scale":{"domain":[-0.1,1],"nice":false,"zero":false},"axis":{"values":[-0.1,0,0.25,0.5,0.75,1],"format":".2f"}},"strokeDash":{"field":"k","type":"nominal","scale":{"domain":["dot","dd","ds","ld"],"range":[[1,3],[7,2,1.5,2],[4,3],[9,4]]},"legend":null}}},
{"transform":[{"filter":"datum.k=='v'"}],"mark":{"type":"rule","strokeWidth":1.3,"color":"#111","strokeDash":[7,2,1.5,2]},"encoding":{"x":{"field":"x","type":"quantitative","title":null,"scale":{"domain":[12,95,102.5],"range":[0,127,150],"nice":false,"zero":false},"axis":{"values":[15,25,35,45,55,65,75,85,95,100]}}}},
{"transform":[{"filter":"!datum.k"}],"mark":{"type":"line","interpolate":"basis","strokeWidth":1.2},"encoding":{"x":{"field":"x","type":"quantitative","title":null,"scale":{"domain":[12,95,102.5],"range":[0,127,150],"nice":false,"zero":false},"axis":{"values":[15,25,35,45,55,65,75,85,95,100]}},"y":{"field":"y","type":"quantitative","title":null,"scale":{"domain":[-0.1,1],"nice":false,"zero":false},"axis":{"values":[-0.1,0,0.25,0.5,0.75,1],"format":".2f"}},"color":{"field":"n","type":"nominal","title":"Method","scale":{"domain":["DDGun","DynaMut1","ENCoM","I-Mutant 2.0","mCSM","DUET","DynaMut2","FoldX","MAESTRO","SDM"],"range":["#8b2323","#ee22ee","#f5a21f","#3a8fc7","#f2ee00","#e8141c","#1a8a1a","#0b0b8c","#6b0f78","#2fe3f0"]}}}},
{"transform":[{"filter":"!datum.k"}],"mark":{"type":"point","filled":true,"opacity":1,"size":38},"encoding":{"x":{"field":"x","type":"quantitative","title":null,"scale":{"domain":[12,95,102.5],"range":[0,127,150],"nice":false,"zero":false},"axis":{"values":[15,25,35,45,55,65,75,85,95,100]}},"y":{"field":"y","type":"quantitative","title":null,"scale":{"domain":[-0.1,1],"nice":false,"zero":false},"axis":{"values":[-0.1,0,0.25,0.5,0.75,1],"format":".2f"}},"color":{"field":"n","type":"nominal","title":"Method","scale":{"domain":["DDGun","DynaMut1","ENCoM","I-Mutant 2.0","mCSM","DUET","DynaMut2","FoldX","MAESTRO","SDM"],"range":["#8b2323","#ee22ee","#f5a21f","#3a8fc7","#f2ee00","#e8141c","#1a8a1a","#0b0b8c","#6b0f78","#2fe3f0"]}},"shape":{"field":"n","type":"nominal","title":"Method","scale":{"domain":["DDGun","DynaMut1","ENCoM","I-Mutant 2.0","mCSM","DUET","DynaMut2","FoldX","MAESTRO","SDM"],"range":["circle","triangle-up","circle","triangle-up","triangle-up","triangle-up","triangle-up","circle","triangle-up","circle"]}}}}
]}
},
{
"data":{"name":"b"},
"transform":[{"lookup":"m","from":{"data":{"name":"meth"},"key":"m","fields":["n","r"]}}],
"title":{"text":"(b)"},
"facet":{
"row":{"field":"r","type":"nominal","sort":["ML","Non-ML"],"title":"R","header":{"labelOrient":"right","labelAngle":90,"titleOrient":"left","titleFontSize":14}},
"column":{"field":"p","type":"nominal","sort":["L2S","S2L","S2S"],"title":"Identity level","header":{"labelOrient":"top","titleOrient":"bottom"}}
},
"spacing":{"row":13,"column":3},
"spec":{
"width":200,"height":122,
"layer":[
{"transform":[{"filter":"datum.k&&datum.k!='v'"}],"mark":{"type":"rule","strokeWidth":1.3,"color":"#333"},"encoding":{"y":{"field":"y","type":"quantitative","title":null,"scale":{"domain":[-0.25,1],"nice":false,"zero":false},"axis":{"values":[-0.25,0,0.25,0.5,0.75,1],"format":".2f"}},"strokeDash":{"field":"k","type":"nominal","scale":{"domain":["dot","dd","ds","ld"],"range":[[1,3],[7,2,1.5,2],[4,3],[9,4]]},"legend":null}}},
{"transform":[{"filter":"datum.k=='v'"}],"mark":{"type":"rule","strokeWidth":1.3,"color":"#111","strokeDash":[7,2,1.5,2]},"encoding":{"x":{"field":"x","type":"quantitative","title":null,"scale":{"domain":[12,95,102.5],"range":[0,169,200],"nice":false,"zero":false},"axis":{"values":[15,25,35,45,55,65,75,85,95,100]}}}},
{"transform":[{"filter":"!datum.k"}],"mark":{"type":"line","interpolate":"basis","strokeWidth":1.2},"encoding":{"x":{"field":"x","type":"quantitative","title":null,"scale":{"domain":[12,95,102.5],"range":[0,169,200],"nice":false,"zero":false},"axis":{"values":[15,25,35,45,55,65,75,85,95,100]}},"y":{"field":"y","type":"quantitative","title":null,"scale":{"domain":[-0.25,1],"nice":false,"zero":false},"axis":{"values":[-0.25,0,0.25,0.5,0.75,1],"format":".2f"}},"color":{"field":"n","type":"nominal","title":"Method","scale":{"domain":["DDGun","DynaMut1","ENCoM","I-Mutant 2.0","mCSM","DUET","DynaMut2","FoldX","MAESTRO","SDM"],"range":["#8b2323","#ee22ee","#f5a21f","#3a8fc7","#f2ee00","#e8141c","#1a8a1a","#0b0b8c","#6b0f78","#2fe3f0"]}}}},
{"transform":[{"filter":"!datum.k"}],"mark":{"type":"point","filled":true,"opacity":1,"size":38},"encoding":{"x":{"field":"x","type":"quantitative","title":null,"scale":{"domain":[12,95,102.5],"range":[0,169,200],"nice":false,"zero":false},"axis":{"values":[15,25,35,45,55,65,75,85,95,100]}},"y":{"field":"y","type":"quantitative","title":null,"scale":{"domain":[-0.25,1],"nice":false,"zero":false},"axis":{"values":[-0.25,0,0.25,0.5,0.75,1],"format":".2f"}},"color":{"field":"n","type":"nominal","title":"Method","scale":{"domain":["DDGun","DynaMut1","ENCoM","I-Mutant 2.0","mCSM","DUET","DynaMut2","FoldX","MAESTRO","SDM"],"range":["#8b2323","#ee22ee","#f5a21f","#3a8fc7","#f2ee00","#e8141c","#1a8a1a","#0b0b8c","#6b0f78","#2fe3f0"]}},"shape":{"field":"n","type":"nominal","title":"Method","scale":{"domain":["DDGun","DynaMut1","ENCoM","I-Mutant 2.0","mCSM","DUET","DynaMut2","FoldX","MAESTRO","SDM"],"range":["circle","triangle-up","circle","triangle-up","triangle-up","triangle-up","triangle-up","circle","triangle-up","circle"]}}}}
]}
},
{
"spacing":4,
"hconcat":[
{
"data":{"name":"c"},
"transform":[{"lookup":"m","from":{"data":{"name":"meth"},"key":"m","fields":["n","r"]}}],
"title":{"text":"(c)"},
"facet":{
"row":{"field":"r","type":"nominal","sort":["ML","Non-ML"],"title":"R","header":{"labelOrient":"right","labelAngle":90,"titleOrient":"left","titleFontSize":14}},
"column":{"field":"p","type":"nominal","sort":["FrG","ToG"],"title":"Identity level","header":{"labelOrient":"top","titleOrient":"bottom"}}
},
"spacing":{"row":13,"column":2},
"spec":{
"width":133,"height":122,
"layer":[
{"transform":[{"filter":"datum.k&&datum.k!='v'"}],"mark":{"type":"rule","strokeWidth":1.3,"color":"#333"},"encoding":{"y":{"field":"y","type":"quantitative","title":null,"scale":{"domain":[-0.5,1],"nice":false,"zero":false},"axis":{"values":[-0.5,-0.25,0,0.25,0.5,0.75,1],"format":".2f"}},"strokeDash":{"field":"k","type":"nominal","scale":{"domain":["dot","dd","ds","ld"],"range":[[1,3],[7,2,1.5,2],[4,3],[9,4]]},"legend":null}}},
{"transform":[{"filter":"datum.k=='v'"}],"mark":{"type":"rule","strokeWidth":1.3,"color":"#111","strokeDash":[7,2,1.5,2]},"encoding":{"x":{"field":"x","type":"quantitative","title":null,"scale":{"domain":[12,95,102.5],"range":[0,113,133],"nice":false,"zero":false},"axis":{"values":[15,25,35,45,55,65,75,85,95,100],"labelFontSize":8}}}},
{"transform":[{"filter":"!datum.k"}],"mark":{"type":"line","interpolate":"basis","strokeWidth":1.2},"encoding":{"x":{"field":"x","type":"quantitative","title":null,"scale":{"domain":[12,95,102.5],"range":[0,113,133],"nice":false,"zero":false},"axis":{"values":[15,25,35,45,55,65,75,85,95,100],"labelFontSize":8}},"y":{"field":"y","type":"quantitative","title":null,"scale":{"domain":[-0.5,1],"nice":false,"zero":false},"axis":{"values":[-0.5,-0.25,0,0.25,0.5,0.75,1],"format":".2f"}},"color":{"field":"n","type":"nominal","title":"Method","scale":{"domain":["DDGun","DynaMut1","ENCoM","I-Mutant 2.0","mCSM","DUET","DynaMut2","FoldX","MAESTRO","SDM"],"range":["#8b2323","#ee22ee","#f5a21f","#3a8fc7","#f2ee00","#e8141c","#1a8a1a","#0b0b8c","#6b0f78","#2fe3f0"]}}}},
{"transform":[{"filter":"!datum.k"}],"mark":{"type":"point","filled":true,"opacity":1,"size":38},"encoding":{"x":{"field":"x","type":"quantitative","title":null,"scale":{"domain":[12,95,102.5],"range":[0,113,133],"nice":false,"zero":false},"axis":{"values":[15,25,35,45,55,65,75,85,95,100],"labelFontSize":8}},"y":{"field":"y","type":"quantitative","title":null,"scale":{"domain":[-0.5,1],"nice":false,"zero":false},"axis":{"values":[-0.5,-0.25,0,0.25,0.5,0.75,1],"format":".2f"}},"color":{"field":"n","type":"nominal","title":"Method","scale":{"domain":["DDGun","DynaMut1","ENCoM","I-Mutant 2.0","mCSM","DUET","DynaMut2","FoldX","MAESTRO","SDM"],"range":["#8b2323","#ee22ee","#f5a21f","#3a8fc7","#f2ee00","#e8141c","#1a8a1a","#0b0b8c","#6b0f78","#2fe3f0"]}},"shape":{"field":"n","type":"nominal","title":"Method","scale":{"domain":["DDGun","DynaMut1","ENCoM","I-Mutant 2.0","mCSM","DUET","DynaMut2","FoldX","MAESTRO","SDM"],"range":["circle","triangle-up","circle","triangle-up","triangle-up","triangle-up","triangle-up","circle","triangle-up","circle"]}}}}
]}
},
{
"data":{"name":"d"},
"transform":[{"lookup":"m","from":{"data":{"name":"meth"},"key":"m","fields":["n","r"]}}],
"title":{"text":"(d)"},
"facet":{
"row":{"field":"r","type":"nominal","sort":["ML","Non-ML"],"title":"R","header":{"labelOrient":"right","labelAngle":90,"titleOrient":"left","titleFontSize":14}},
"column":{"field":"p","type":"nominal","sort":["Destabilised","Stabilised"],"title":"Identity level","header":{"labelOrient":"top","titleOrient":"bottom"}}
},
"spacing":{"row":13,"column":2},
"spec":{
"width":133,"height":122,
"layer":[
{"transform":[{"filter":"datum.k&&datum.k!='v'"}],"mark":{"type":"rule","strokeWidth":1.3,"color":"#333"},"encoding":{"y":{"field":"y","type":"quantitative","title":null,"scale":{"domain":[-0.1,1],"nice":false,"zero":false},"axis":{"values":[-0.1,0,0.25,0.5,0.75,1],"format":".2f"}},"strokeDash":{"field":"k","type":"nominal","scale":{"domain":["dot","dd","ds","ld"],"range":[[1,3],[7,2,1.5,2],[4,3],[9,4]]},"legend":null}}},
{"transform":[{"filter":"datum.k=='v'"}],"mark":{"type":"rule","strokeWidth":1.3,"color":"#111","strokeDash":[7,2,1.5,2]},"encoding":{"x":{"field":"x","type":"quantitative","title":null,"scale":{"domain":[12,95,102.5],"range":[0,113,133],"nice":false,"zero":false},"axis":{"values":[15,25,35,45,55,65,75,85,95,100],"labelFontSize":8}}}},
{"transform":[{"filter":"!datum.k"}],"mark":{"type":"line","interpolate":"basis","strokeWidth":1.2},"encoding":{"x":{"field":"x","type":"quantitative","title":null,"scale":{"domain":[12,95,102.5],"range":[0,113,133],"nice":false,"zero":false},"axis":{"values":[15,25,35,45,55,65,75,85,95,100],"labelFontSize":8}},"y":{"field":"y","type":"quantitative","title":null,"scale":{"domain":[-0.1,1],"nice":false,"zero":false},"axis":{"values":[-0.1,0,0.25,0.5,0.75,1],"format":".2f"}},"color":{"field":"n","type":"nominal","title":"Method","scale":{"domain":["DDGun","DynaMut1","ENCoM","I-Mutant 2.0","mCSM","DUET","DynaMut2","FoldX","MAESTRO","SDM"],"range":["#8b2323","#ee22ee","#f5a21f","#3a8fc7","#f2ee00","#e8141c","#1a8a1a","#0b0b8c","#6b0f78","#2fe3f0"]}}}},
{"transform":[{"filter":"!datum.k"}],"mark":{"type":"point","filled":true,"opacity":1,"size":38},"encoding":{"x":{"field":"x","type":"quantitative","title":null,"scale":{"domain":[12,95,102.5],"range":[0,113,133],"nice":false,"zero":false},"axis":{"values":[15,25,35,45,55,65,75,85,95,100],"labelFontSize":8}},"y":{"field":"y","type":"quantitative","title":null,"scale":{"domain":[-0.1,1],"nice":false,"zero":false},"axis":{"values":[-0.1,0,0.25,0.5,0.75,1],"format":".2f"}},"color":{"field":"n","type":"nominal","title":"Method","scale":{"domain":["DDGun","DynaMut1","ENCoM","I-Mutant 2.0","mCSM","DUET","DynaMut2","FoldX","MAESTRO","SDM"],"range":["#8b2323","#ee22ee","#f5a21f","#3a8fc7","#f2ee00","#e8141c","#1a8a1a","#0b0b8c","#6b0f78","#2fe3f0"]}},"shape":{"field":"n","type":"nominal","title":"Method","scale":{"domain":["DDGun","DynaMut1","ENCoM","I-Mutant 2.0","mCSM","DUET","DynaMut2","FoldX","MAESTRO","SDM"],"range":["circle","triangle-up","circle","triangle-up","triangle-up","triangle-up","triangle-up","circle","triangle-up","circle"]}}}}
]}
}
]
}
]
}
